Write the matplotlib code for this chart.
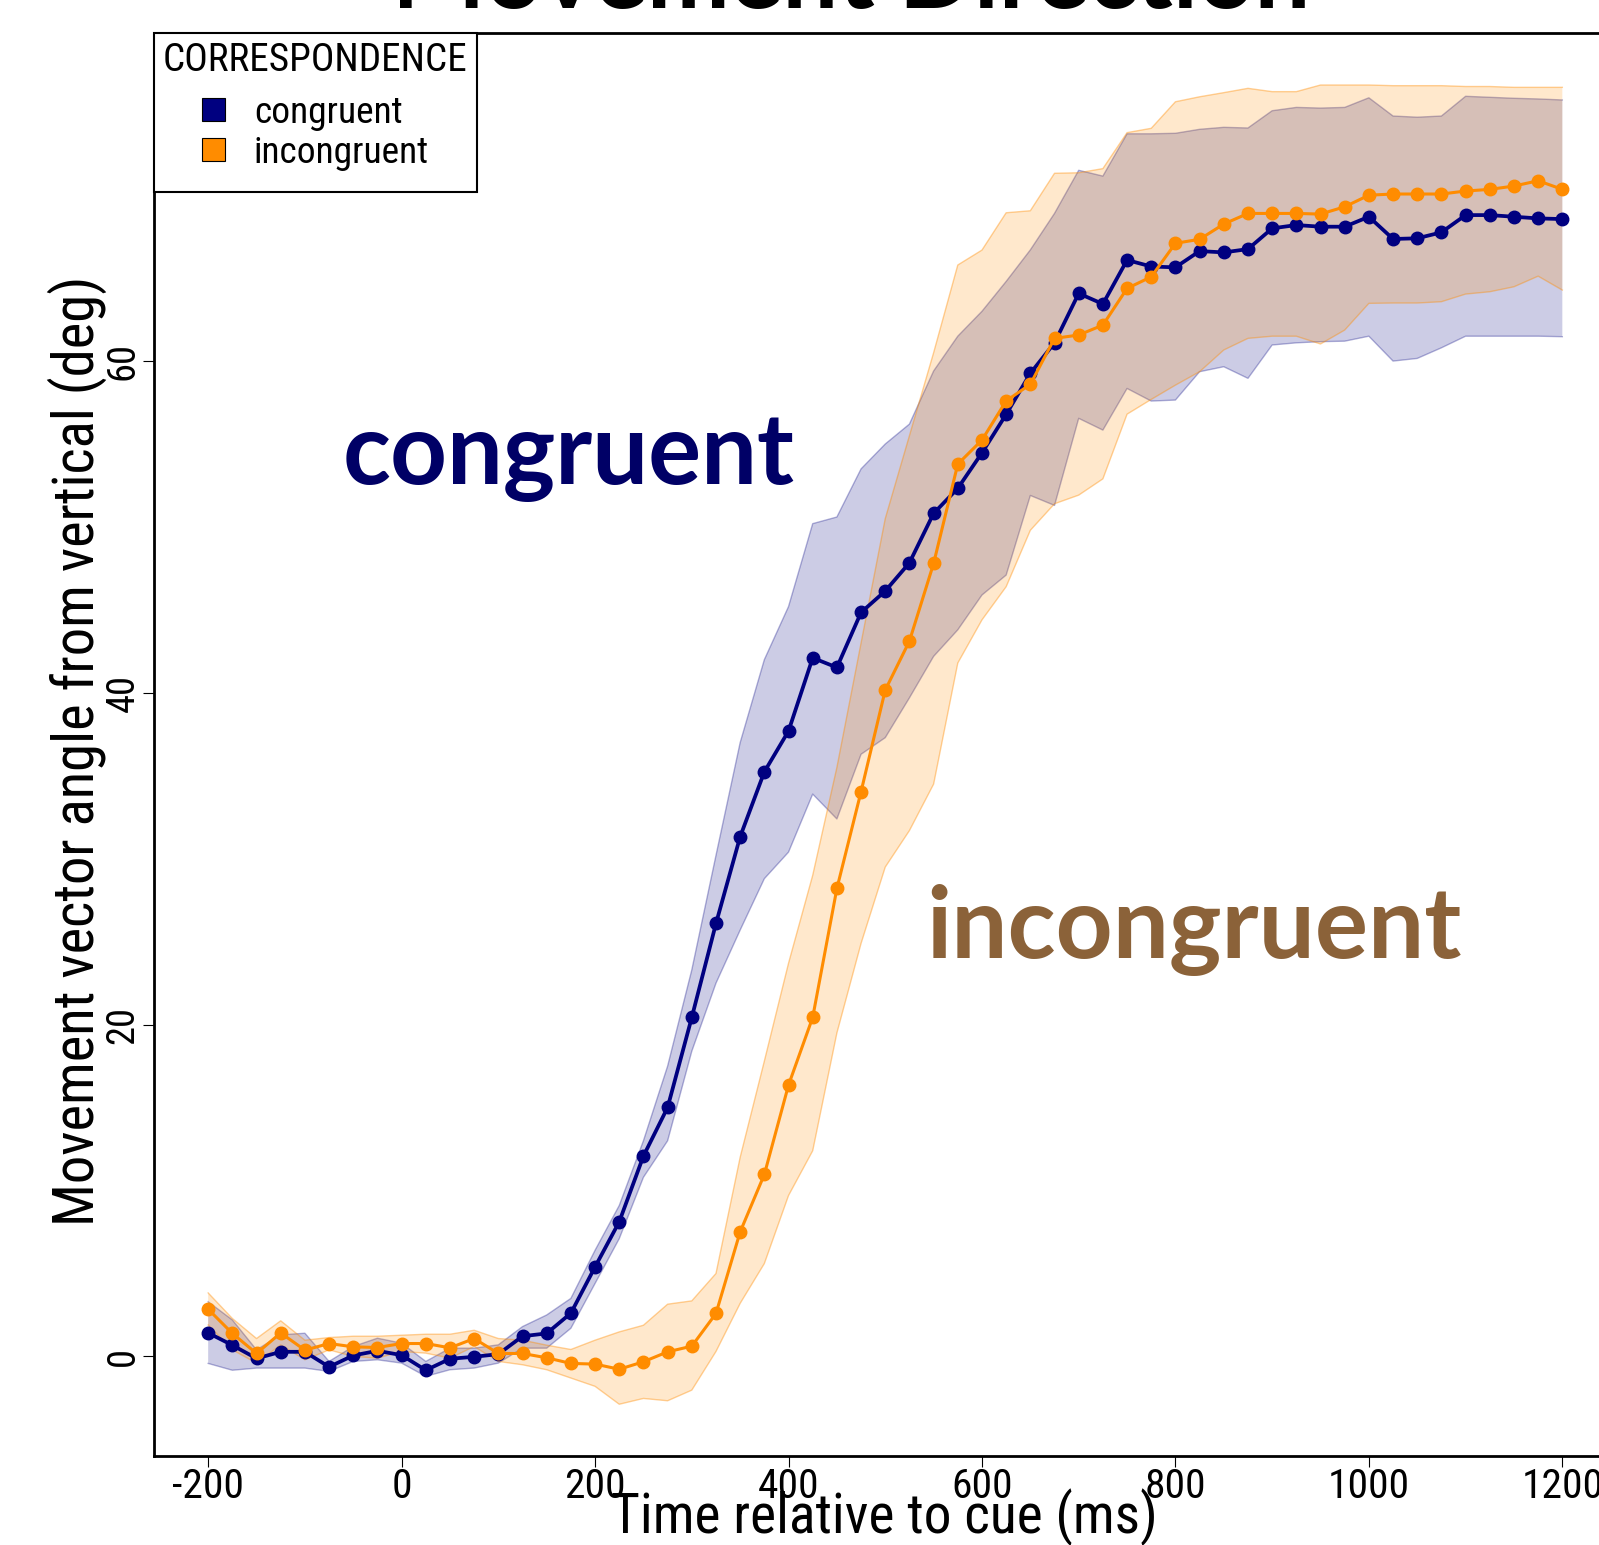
import matplotlib
matplotlib.use("Agg")
import matplotlib.pyplot as plt
from matplotlib.patches import Patch
from matplotlib import font_manager as fm

# ---------------- data ----------------
time_ms = list(range(-200, 1201, 25))

congruent_mean = [1.42, 0.68, -0.12, 0.28, 0.28, -0.63, 0.06, 0.34, 0.08, -0.83,
                  -0.14, -0.02, 0.14, 1.22, 1.39, 2.61, 5.40, 8.12, 12.08, 15.01,
                  20.44, 26.1, 31.33, 35.24, 37.7, 42.11, 41.53, 44.85, 46.14, 47.84,
                  50.82, 52.33, 54.47, 56.79, 59.26, 61.1, 64.08, 63.44, 66.09, 65.7,
                  65.65, 66.63, 66.55, 66.75, 68.0, 68.2, 68.1, 68.1, 68.7, 67.36,
                  67.4, 67.76, 68.8, 68.8, 68.7, 68.6, 68.56]
congruent_upper = [3.3, 2.2, 0.4, 1.3, 1.4, -0.3, 0.6, 1.1, 0.8, -0.3,
                   0.5, 0.5, 0.7, 1.8, 2.5, 3.5, 6.4, 9.1, 13.0, 17.5,
                   23.3, 30.2, 37.0, 42.0, 45.2, 50.2, 50.6, 53.5, 55.0, 56.2,
                   59.4, 61.5, 63.0, 64.8, 66.7, 68.9, 71.5, 71.15, 73.7, 73.7,
                   73.73, 73.97, 74.09, 74.05, 75.09, 75.29, 75.25, 75.29, 75.87, 74.77,
                   74.7, 74.77, 75.96, 75.9, 75.84, 75.8, 75.74]
congruent_lower = [-0.42, -0.83, -0.7, -0.7, -0.7, -0.9, -0.3, -0.2, -0.4, -1.2,
                   -0.8, -0.7, -0.4, 0.5, 0.5, 1.7, 4.4, 7.1, 10.8, 13.0,
                   18.4, 22.5, 25.7, 28.8, 30.4, 33.9, 32.4, 36.3, 37.3, 39.7,
                   42.2, 43.8, 45.9, 47.1, 51.9, 51.3, 56.55, 55.84, 58.35, 57.59,
                   57.65, 59.36, 59.66, 58.96, 60.97, 61.1, 61.17, 61.2, 61.5, 60.0,
                   60.16, 60.8, 61.5, 61.5, 61.5, 61.5, 61.47]

incongruent_mean = [2.85, 1.39, 0.18, 1.42, 0.38, 0.78, 0.58, 0.54, 0.78, 0.78,
                    0.52, 1.08, 0.18, 0.18, -0.08, -0.42, -0.46, -0.77, -0.32, 0.28,
                    0.62, 2.59, 7.51, 10.97, 16.36, 20.44, 28.21, 34.05, 40.17, 43.12,
                    47.8, 53.79, 55.24, 57.6, 58.6, 61.37, 61.57, 62.17, 64.38, 65.08,
                    67.1, 67.34, 68.26, 68.9, 68.9, 68.9, 68.86, 69.3, 70.0, 70.07,
                    70.07, 70.07, 70.25, 70.35, 70.55, 70.87, 70.35]
incongruent_upper = [3.83, 2.29, 1.08, 2.15, 0.98, 1.14, 1.22, 1.22, 1.28, 1.34,
                     1.34, 1.58, 1.08, 0.98, 0.68, 0.42, 0.98, 1.48, 1.88, 3.15,
                     3.35, 5.0, 12.0, 17.8, 23.7, 29.0, 35.5, 43.0, 50.5, 55.5,
                     60.5, 65.79, 66.69, 68.94, 69.06, 71.32, 71.35, 71.6, 73.77, 74.03,
                     75.63, 75.93, 76.18, 76.44, 76.24, 76.24, 76.64, 76.64, 76.64, 76.6,
                     76.6, 76.6, 76.55, 76.55, 76.5, 76.5, 76.5]
incongruent_lower = [1.9, 0.4, -0.4, 0.7, -0.2, 0.4, 0.0, -0.1, 0.3, 0.2,
                     -0.1, 0.6, -0.3, -0.5, -0.8, -1.3, -1.8, -2.88, -2.53, -2.67,
                     -2.03, 0.3, 3.2, 5.6, 9.7, 12.4, 19.5, 24.9, 29.5, 31.7,
                     34.5, 41.8, 44.4, 46.4, 49.8, 51.4, 51.92, 52.9, 56.8, 57.69,
                     58.55, 59.36, 60.67, 61.37, 61.5, 61.5, 61.03, 61.87, 63.48, 63.5,
                     63.5, 63.58, 64.04, 64.18, 64.48, 65.12, 64.28]

x_ticks = [-200, 0, 200, 400, 600, 800, 1000, 1200]
y_ticks = [0, 20, 40, 60]
legend_labels = ["congruent", "incongruent"]


# ---------------- fonts ----------------
def first_font(names):
    for n in names:
        try:
            fm.findfont(fm.FontProperties(family=n), fallback_to_default=False)
            return n
        except Exception:
            continue
    return "DejaVu Sans"


AX_NAME = first_font(["Roboto Condensed", "Liberation Sans Narrow",
                      "Liberation Sans"])
AX_FONT = [AX_NAME, "DejaVu Sans"]
BIG_FONT = ["Lato", "DejaVu Sans"]

NAVY = "#000080"
ORANGE = "#FF8C00"
PX = 100 / 72  # pixels per point

W, H = 1599, 1545
fig = plt.figure(figsize=(W / 100, H / 100), dpi=100)
left, right = 154 / W, 1616.5 / W
bottom, top = 1 - 1456 / H, 1 - 32.6 / H
ax = fig.add_axes([left, bottom, right - left, top - bottom])

ax.fill_between(time_ms, congruent_lower, congruent_upper, facecolor=NAVY,
                alpha=0.2, edgecolor="none", zorder=1)
ax.plot(time_ms, congruent_upper, color=NAVY, alpha=0.3, lw=1, zorder=1.1)
ax.plot(time_ms, congruent_lower, color=NAVY, alpha=0.3, lw=1, zorder=1.1)
ax.fill_between(time_ms, incongruent_lower, incongruent_upper, facecolor=ORANGE,
                alpha=0.2, edgecolor="none", zorder=2)
ax.plot(time_ms, incongruent_upper, color=ORANGE, alpha=0.4, lw=1, zorder=2.1)
ax.plot(time_ms, incongruent_lower, color=ORANGE, alpha=0.4, lw=1, zorder=2.1)

ax.plot(time_ms, congruent_mean, color=NAVY, lw=2.7, marker="o", ms=9, zorder=3)
ax.plot(time_ms, incongruent_mean, color=ORANGE, lw=2.2, marker="o", ms=9, zorder=4)

ax.set_xlim(-256, 1256)
ax.set_ylim(-6.0, 79.8)
ax.set_xticks(x_ticks)
ax.set_xticklabels([str(t) for t in x_ticks], family=AX_FONT, fontsize=27)
ax.set_yticks(y_ticks)
ax.set_yticklabels([str(t) for t in y_ticks], family=AX_FONT, fontsize=27,
                   rotation=90, va="center")
ax.tick_params(axis="x", length=8, width=0.8, color="black", pad=0)
ax.tick_params(axis="y", length=8, width=0.8, color="black", pad=1)
for s in ax.spines.values():
    s.set_linewidth(2.0)

xl = fig.text(884.7 / W, 1 - 1517 / H, "Time relative to cue (ms)", family=AX_FONT,
              fontsize=37, ha="center", va="center")
yl = fig.text(77.5 / W, 1 - 751 / H, "Movement vector angle from vertical (deg)",
              family=AX_FONT, fontsize=38, rotation=90, ha="center", va="center")

tt = fig.text(851 / W, 1 - 8 / H, "Movement Direction", family=BIG_FONT,
              fontweight="bold", fontsize=72, ha="center", va="baseline")

a1 = ax.text(0.129, 0.683, "congruent", transform=ax.transAxes, family=BIG_FONT,
             fontweight="bold", fontsize=72, color="#000066", ha="left",
             va="baseline")
a2 = ax.text(0.528, 0.350, "incongruent", transform=ax.transAxes, family=BIG_FONT,
             fontweight="bold", fontsize=72, color="#8B6239", ha="left",
             va="baseline")

# fit text sizes to the widths measured on the reference (pixels)
fig.canvas.draw()
r = fig.canvas.get_renderer()


def fit(t, target, vertical=False):
    bb = t.get_window_extent(r)
    cur = bb.height if vertical else bb.width
    t.set_fontsize(t.get_fontsize() * target / cur)


fit(xl, 546)
fit(yl, 950, vertical=True)
fit(tt, 918)
fit(a1, 453)
fit(a2, 535)
xt = ax.get_xticklabels()
k = xt[6].get_window_extent(r).width
xsize = 27 * 82 / k
for t in xt:
    t.set_fontsize(xsize)
yt = ax.get_yticklabels()
k = yt[3].get_window_extent(r).height
ysize = 27 * 38 / k
for t in yt:
    t.set_fontsize(ysize)

# legend sizes fitted to reference widths
probe_t = fig.text(0, 0, "CORRESPONDENCE", family=AX_FONT, fontsize=27)
probe_l = fig.text(0, 0, "incongruent", family=AX_FONT, fontsize=27)
fig.canvas.draw()
tsize = 27 * 305 / probe_t.get_window_extent(r).width
lsize = 27 * 175 / probe_l.get_window_extent(r).width
probe_t.remove()
probe_l.remove()

L = lsize * PX  # label font size in pixels
handles = [Patch(facecolor=NAVY, edgecolor="black", lw=0.8),
           Patch(facecolor=ORANGE, edgecolor="black", lw=0.8)]
leg = ax.legend(handles, legend_labels, title="CORRESPONDENCE", loc="upper left",
                bbox_to_anchor=(0, 1), borderaxespad=0, fancybox=False,
                edgecolor="black", framealpha=1,
                prop={"family": AX_FONT, "size": lsize},
                title_fontproperties={"family": AX_FONT, "size": tsize},
                handlelength=23.5 / L, handleheight=20.4 / L,
                handletextpad=28.5 / L, labelspacing=4.0 / L,
                borderpad=9.0 / L)
leg._legend_handle_box.pad = 12.0 / PX
leg.get_frame().set_linewidth(1.5)
leg.set_zorder(10)

fig.savefig("out.png", dpi=100)
